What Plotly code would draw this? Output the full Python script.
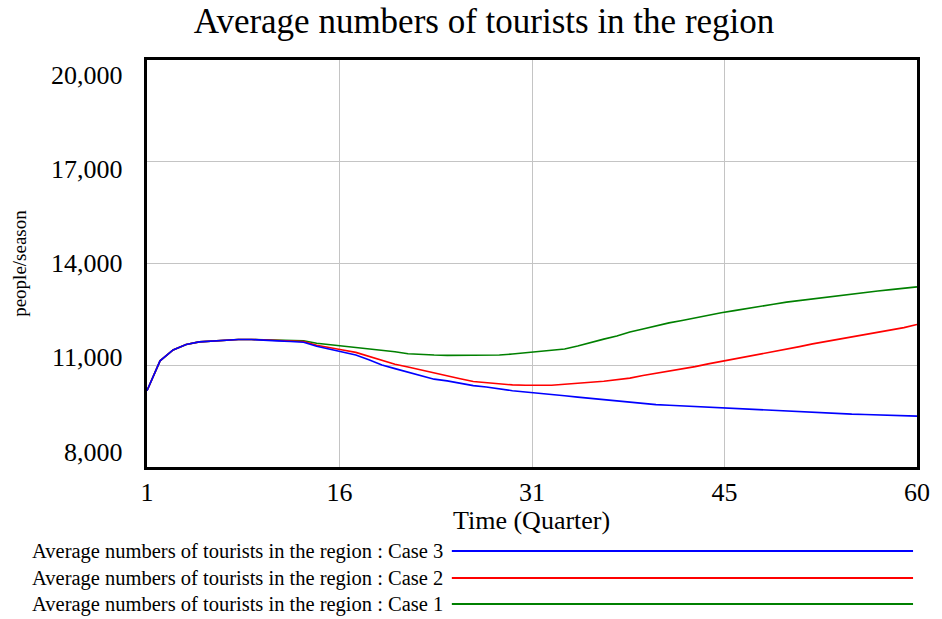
import plotly.graph_objects as go

# Simulation output, one value per quarter
time = list(range(1, 61))

case3 = [10250, 11130, 11450, 11610, 11690, 11720, 11750, 11760, 11760, 11750,
         11720, 11700, 11680, 11560, 11480, 11390, 11300, 11160, 11010, 10900,
         10800, 10690, 10590, 10540, 10470, 10400, 10360, 10300, 10250, 10210,
         10180, 10140, 10100, 10060, 10020, 9990, 9950, 9910, 9880, 9840,
         9820, 9800, 9780, 9760, 9740, 9730, 9710, 9700, 9680, 9650,
         9630, 9610, 9590, 9570, 9560, 9550, 9540, 9530, 9515, 9500]

case2 = [10250, 11130, 11450, 11610, 11690, 11720, 11750, 11760, 11760, 11750,
         11740, 11720, 11700, 11590, 11530, 11450, 11380, 11270, 11150, 11030,
         10950, 10860, 10770, 10670, 10600, 10520, 10480, 10450, 10420, 10410,
         10410, 10410, 10440, 10460, 10500, 10530, 10570, 10620, 10700, 10760,
         10830, 10890, 10960, 11040, 11110, 11180, 11260, 11340, 11410, 11480,
         11550, 11630, 11700, 11770, 11840, 11900, 11960, 12030, 12110, 12200]

case1 = [10250, 11130, 11450, 11610, 11690, 11720, 11750, 11760, 11760, 11750,
         11760, 11740, 11720, 11650, 11610, 11580, 11540, 11500, 11450, 11400,
         11340, 11310, 11300, 11290, 11290, 11290, 11290, 11300, 11330, 11370,
         11400, 11440, 11480, 11570, 11680, 11770, 11860, 11980, 12070, 12170,
         12250, 12320, 12400, 12480, 12550, 12610, 12680, 12740, 12800, 12860,
         12910, 12960, 13000, 13050, 13100, 13140, 13190, 13230, 13270, 13310]

variable_name = "Average numbers of tourists in the region"
case_names = ["Case 3", "Case 2", "Case 1"]
case_colors = ["#0000ff", "#ff0000", "#008000"]

x_tick_vals = [1, 15.75, 30.5, 45.25, 60]
x_tick_text = ["1", "16", "31", "45", "60"]
y_tick_vals = [8000, 11000, 14000, 17000, 20000]
y_tick_text = ["8,000", "11,000", "14,000", "17,000", "20,000"]

W, H = 942, 619
L, R, T, B = 147, 17, 60, 152
PLOT_W = W - L - R
PLOT_H = H - T - B
FONT = "Liberation Serif, Times New Roman, serif"


def paper_x(px):
    return (px - L) / PLOT_W


def paper_y(py):
    return (H - B - py) / PLOT_H


fig = go.Figure()

series = {"Case 3": case3, "Case 2": case2, "Case 1": case1}
# draw Case 1 first so Case 3 sits on top where the runs coincide
for name, color in reversed(list(zip(case_names, case_colors))):
    fig.add_trace(go.Scatter(
        x=time, y=series[name], mode="lines", name=f"{variable_name} : {name}",
        line=dict(color=color, width=1.6), showlegend=False,
    ))

annotations = []
shapes = []

# y tick labels, spread evenly inside the frame
y_lo, y_hi = y_tick_vals[0], y_tick_vals[-1]
inset = 15
for v, txt in zip(y_tick_vals, y_tick_text):
    frac = (v - y_lo) / (y_hi - y_lo)
    annotations.append(dict(
        x=0, xref="paper", y=v, yref="y", text=txt, showarrow=False,
        xanchor="right", yanchor="middle", xshift=-22,
        yshift=inset * (1 - 2 * frac),
        font=dict(family=FONT, size=26, color="black"),
    ))

annotations.append(dict(
    x=paper_x(18), xref="paper", y=0.5, yref="paper", text="people/season",
    textangle=-90, showarrow=False, xanchor="center", yanchor="middle",
    font=dict(family=FONT, size=19, color="black"),
))
annotations.append(dict(
    x=paper_x(535), xref="paper", y=paper_y(520), yref="paper",
    text="Time (Quarter)", showarrow=False, xanchor="center", yanchor="middle",
    font=dict(family=FONT, size=26, color="black"),
))

# legend rows: label on the left, long colour sample on the right
legend_rows = [551, 578, 604]
for name, color, py in zip(case_names, case_colors, legend_rows):
    annotations.append(dict(
        x=paper_x(448), xref="paper", y=paper_y(py), yref="paper",
        text=f"{variable_name} : {name}", showarrow=False,
        xanchor="right", yanchor="middle",
        font=dict(family=FONT, size=20.5, color="black"),
    ))
    shapes.append(dict(
        type="line", xref="paper", yref="paper",
        x0=paper_x(455), x1=paper_x(921), y0=paper_y(py), y1=paper_y(py),
        line=dict(color=color, width=2),
    ))

axis_common = dict(
    showgrid=True, gridcolor="#c4c4c4", gridwidth=1,
    showline=True, linecolor="black", linewidth=3, mirror=True,
    ticks="", zeroline=False,
)

fig.update_layout(
    width=W, height=H,
    margin=dict(l=L, r=R, t=T, b=B, pad=0),
    paper_bgcolor="white", plot_bgcolor="white",
    title=dict(
        text=variable_name, x=484 / W, xref="container", xanchor="center",
        y=1 - 21 / H, yref="container", yanchor="middle",
        font=dict(family=FONT, size=35, color="black"),
    ),
    xaxis=dict(
        range=[x_tick_vals[0], x_tick_vals[-1]], tickvals=x_tick_vals,
        ticktext=x_tick_text, tickfont=dict(family=FONT, size=26, color="black"),
        **axis_common,
    ),
    yaxis=dict(
        range=[y_lo, y_hi], tickvals=y_tick_vals, showticklabels=False,
        **axis_common,
    ),
    annotations=annotations,
    shapes=shapes,
    showlegend=False,
)

fig.write_html("out.html")
